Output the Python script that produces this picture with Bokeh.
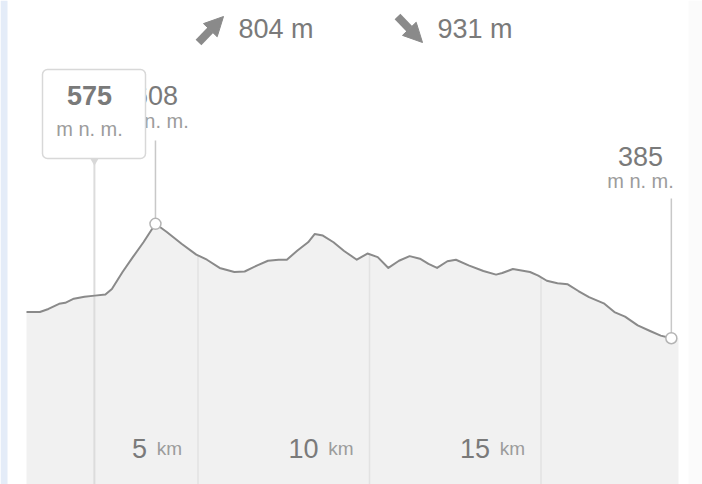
from bokeh.plotting import figure
from bokeh.models import Label, BoxAnnotation, Arrow, NormalHead, Range1d
from bokeh.embed import file_html
from bokeh.resources import INLINE
import numpy as np

# Elevation profile of the route: distance along the track (km) and altitude (m n. m.)
distance_km = [0.0, 0.39, 0.64, 0.95, 1.13, 1.38, 1.69, 1.99, 2.30, 2.49,
               2.80, 3.10, 3.41, 3.76, 4.09, 4.52, 4.95, 5.26, 5.63, 6.06,
               6.36, 6.73, 7.04, 7.35, 7.59, 7.90, 8.21, 8.40, 8.64, 8.95,
               9.26, 9.63, 9.94, 10.24, 10.55, 10.86, 11.17, 11.47, 11.72, 11.97,
               12.27, 12.52, 12.89, 13.32, 13.69, 13.87, 14.18, 14.68, 14.92, 15.17,
               15.48, 15.78, 16.09, 16.40, 16.83, 17.14, 17.45, 17.82, 18.18, 18.49,
               18.80]
altitude_m = [436, 436, 442, 452, 454, 462, 466, 468, 470, 481,
              514, 543, 572, 608, 592, 569, 548, 538, 522, 514,
              515, 527, 536, 538, 538, 556, 572, 588, 585, 572,
              555, 538, 550, 543, 522, 536, 545, 540, 530, 522,
              535, 538, 527, 516, 509, 512, 520, 514, 507, 497,
              492, 490, 477, 465, 453, 436, 427, 410, 399, 390,
              385]

# Distance ticks along the bottom
tick_km = [5, 10, 15]
tick_unit = "km"

# Totals shown in the header
ascent_m = 804
descent_m = 931

# Hovered point shown in the tooltip
hover_km = 1.98
hover_alt = 575

alt_unit = "m n. m."

# ---- canvas geometry -------------------------------------------------------
W, H = 702, 484
KM0_PX = 26.0        # pixel column of km 0
PX_PER_KM = 34.3
PX_PER_M = 0.513
Y_TOP = 1043.3       # altitude at the top edge of the canvas
Y_BOT = Y_TOP - H / PX_PER_M
TEXT_SHIFT = 10      # labels sit this many px above the nominal row


def dx(px):
    """Canvas pixel column -> km."""
    return (px - KM0_PX) / PX_PER_KM


def dy(py):
    """Canvas pixel row (from top) -> altitude."""
    return Y_TOP - py / PX_PER_M


def ty(py):
    """Text baseline row -> altitude."""
    return dy(py - TEXT_SHIFT)


FONT = "Liberation Sans"
NUM_COLOR = "#7a7a7a"
UNIT_COLOR = "#9c9c9c"
LINE_COLOR = "#8a8a8a"

p = figure(width=W, height=H, output_backend="svg", toolbar_location=None,
           x_range=Range1d(dx(0), dx(W)), y_range=Range1d(Y_BOT, Y_TOP),
           x_axis_type=None, y_axis_type=None, min_border=0)
p.grid.visible = False
p.outline_line_color = None
p.background_fill_color = "white"
p.border_fill_color = "white"

# page edge strips
p.add_layout(BoxAnnotation(right=dx(7), fill_color="#e4ecf8", fill_alpha=1,
                           line_alpha=0))
p.add_layout(BoxAnnotation(left=dx(688), fill_color="#fbfbfb", fill_alpha=1,
                           line_alpha=0))

# filled profile (fill runs on to the right edge of the chart area)
fill_x = distance_km + [dx(678)]
fill_y = altitude_m + [altitude_m[-1]]
p.varea(x=fill_x, y1=Y_BOT, y2=fill_y, fill_color="#f1f1f1")

# distance grid lines drawn under the profile only
tick_alt = np.interp(tick_km, distance_km, altitude_m)
p.segment(x0=tick_km, y0=Y_BOT, x1=tick_km, y1=tick_alt,
          line_color="#e2e2e2", line_width=1.5)

# hover rule
p.segment(x0=[hover_km], y0=[Y_BOT], x1=[hover_km], y1=[dy(160)],
          line_color="#dcdcdc", line_width=2)

# profile line
p.line(distance_km, altitude_m, line_color=LINE_COLOR, line_width=2,
       line_join="round")

# highest point and finish
i_peak = int(np.argmax(altitude_m))
peak_km, peak_alt = distance_km[i_peak], altitude_m[i_peak]
end_km, end_alt = distance_km[-1], altitude_m[-1]

p.segment(x0=[peak_km, end_km], y0=[dy(140), dy(198)],
          x1=[peak_km, end_km], y1=[peak_alt, end_alt],
          line_color="#c8c8c8", line_width=1.5)
p.scatter([peak_km, end_km], [peak_alt, end_alt], size=11,
          fill_color="white", line_color="#b4b4b4", line_width=1.5)


def label(x, py, text, size, color, align="center", bold=False, x_offset=0):
    p.add_layout(Label(x=x, y=ty(py), text=text, text_font=FONT,
                       text_font_size=f"{size}px", text_color=color,
                       text_align=align, text_baseline="alphabetic",
                       text_font_style="bold" if bold else "normal",
                       x_offset=x_offset))


# peak and finish altitude labels
label(peak_km, 105, str(peak_alt), 27, NUM_COLOR)
label(peak_km, 130, alt_unit, 20, UNIT_COLOR)
label(dx(640), 166, str(end_alt), 27, NUM_COLOR)
label(dx(640), 190, alt_unit, 20, UNIT_COLOR)

# header: total ascent / descent
for x0, y0, x1, y1 in [(198, 42, 223, 16), (397, 16, 422, 42)]:
    p.add_layout(Arrow(x_start=dx(x0), y_start=dy(y0), x_end=dx(x1), y_end=dy(y1),
                       line_color=LINE_COLOR, line_width=8,
                       end=NormalHead(size=19, fill_color=LINE_COLOR,
                                      line_color=LINE_COLOR, line_width=1)))
label(dx(238), 38, f"{ascent_m} m", 27, NUM_COLOR, align="left")
label(dx(437), 38, f"{descent_m} m", 27, NUM_COLOR, align="left")

# distance tick labels
for km in tick_km:
    label(km, 458, str(km), 27, NUM_COLOR, align="right", x_offset=-51)
    label(km, 458, tick_unit, 19, UNIT_COLOR, align="right", x_offset=-16)

# tooltip for the hovered point
p.add_layout(BoxAnnotation(left=dx(42), right=dx(145), top=dy(69), bottom=dy(158),
                           fill_color="white", fill_alpha=1,
                           line_color="#d8d8d8", line_alpha=1, line_width=1.5,
                           border_radius=5))
p.scatter([hover_km], [dy(160)], marker="inverted_triangle", size=9,
          fill_color="#d8d8d8", line_color=None)
label(dx(89), 105, str(hover_alt), 27, NUM_COLOR, bold=True)
label(dx(89), 138, alt_unit, 20, UNIT_COLOR)

open("out.html", "w").write(file_html(p, INLINE))
